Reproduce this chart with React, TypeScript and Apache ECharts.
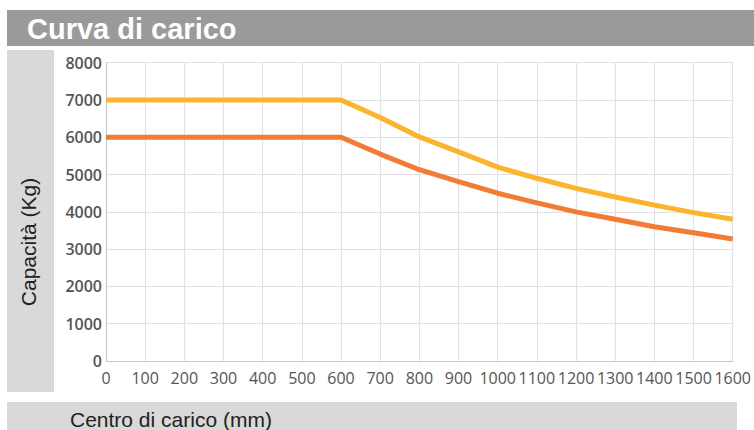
import React, { useEffect, useRef } from "react";
import * as echarts from "echarts";

const xValues = [0, 100, 200, 300, 400, 500, 600, 700, 800, 900, 1000, 1100, 1200, 1300, 1400, 1500, 1600];
const yellowValues = [7000, 7000, 7000, 7000, 7000, 7000, 7000, 6530, 6010, 5610, 5200, 4900, 4630, 4400, 4180, 3980, 3800];
const orangeValues = [6000, 6000, 6000, 6000, 6000, 6000, 6000, 5550, 5130, 4810, 4500, 4240, 4000, 3800, 3600, 3440, 3270];

const titleText = "Curva di carico";
const yAxisName = "Capacità (Kg)";
const xAxisName = "Centro di carico (mm)";

export default function App() {
  const ref = useRef<HTMLDivElement>(null);

  useEffect(() => {
    if (!ref.current) return;
    const chart = echarts.init(ref.current, null, { renderer: "svg" });
    const yellowData = xValues.map((x, i) => [x, yellowValues[i]]);
    const orangeData = xValues.map((x, i) => [x, orangeValues[i]]);

    chart.setOption({
      animation: false,
      backgroundColor: "#ffffff",
      grid: { left: 106, right: 18, top: 62.7, bottom: 69, containLabel: false },
      xAxis: {
        type: "value",
        min: 0,
        max: 1600,
        interval: 100,
        axisLine: { show: true, lineStyle: { color: "#c8c8c8", width: 1 } },
        axisTick: { show: false },
        axisLabel: {
          color: "#555555",
          fontFamily: "Open Sans",
          fontSize: 16,
          margin: 9,
          hideOverlap: false,
          showMinLabel: true,
          showMaxLabel: true,
          formatter: (v: number) => String(v),
        },
        splitLine: { show: true, lineStyle: { color: "#e2e2e2", width: 1.2 } },
      },
      yAxis: {
        type: "value",
        min: 0,
        max: 8000,
        interval: 1000,
        axisLine: { show: true, lineStyle: { color: "#c8c8c8", width: 1 } },
        axisTick: { show: false },
        axisLabel: {
          color: "#555555",
          fontFamily: "Open Sans",
          fontSize: 16,
          fontWeight: 600,
          margin: 4,
          formatter: (v: number) => String(v),
        },
        splitLine: { show: true, lineStyle: { color: "#e2e2e2", width: 1.2 } },
      },
      graphic: [
        { type: "rect", shape: { x: 7, y: 10, width: 747, height: 36 }, style: { fill: "#9a9a9a" }, z: -10 },
        { type: "rect", shape: { x: 7, y: 50, width: 47, height: 342 }, style: { fill: "#d9d9d9" }, z: -10 },
        { type: "rect", shape: { x: 7, y: 402, width: 730, height: 28 }, style: { fill: "#d9d9d9" }, z: -10 },
        {
          type: "text",
          x: 27,
          y: 29,
          style: {
            text: titleText,
            fill: "#ffffff",
            font: "bold 29px 'Liberation Sans', Arial, sans-serif",
            textAlign: "left",
            textVerticalAlign: "middle",
          },
        },
        {
          type: "text",
          x: 70,
          y: 419,
          style: {
            text: xAxisName,
            fill: "#222222",
            font: "21px 'Liberation Sans', Arial, sans-serif",
            textAlign: "left",
            textVerticalAlign: "middle",
          },
        },
        {
          type: "text",
          x: 28,
          y: 242,
          rotation: Math.PI / 2,
          style: {
            text: yAxisName,
            fill: "#222222",
            font: "21px 'Liberation Sans', Arial, sans-serif",
            textAlign: "center",
            textVerticalAlign: "middle",
          },
        },
      ],
      series: [
        {
          type: "line",
          data: orangeData,
          showSymbol: false,
          symbol: "none",
          lineStyle: { color: "#f47b35", width: 5 },
          z: 3,
        },
        {
          type: "line",
          data: yellowData,
          showSymbol: false,
          symbol: "none",
          lineStyle: { color: "#fcb42a", width: 5 },
          z: 4,
        },
      ],
    });
    return () => chart.dispose();
  }, []);

  return (
    <div
      ref={ref}
      style={{ position: "fixed", left: 0, top: 0, width: 754, height: 430 }}
    />
  );
}
